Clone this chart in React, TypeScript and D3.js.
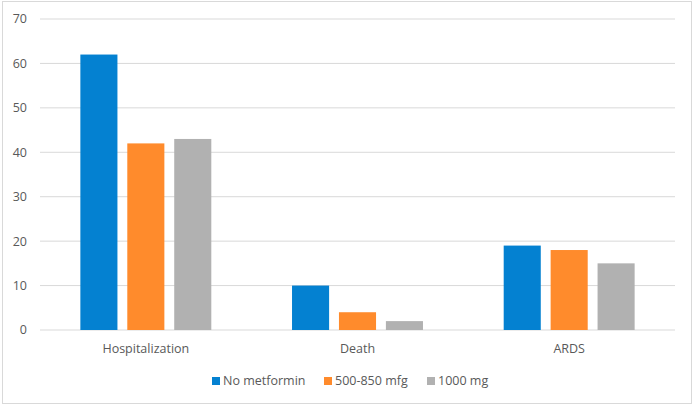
import React, { useEffect, useRef } from 'react';
import * as d3 from 'd3';

const categories = ['Hospitalization', 'Death', 'ARDS'];
const seriesNames = ['No metformin', '500-850 mfg', '1000 mg'];
const noMetformin = [62, 10, 19];
const mid = [42, 4, 18];
const high = [43, 2, 15];
const yTicks = [0, 10, 20, 30, 40, 50, 60, 70];
const colors = ['#0481d1', '#ff8b2c', '#b1b1b1'];

const App: React.FC = () => {
  const ref = useRef<SVGSVGElement | null>(null);

  useEffect(() => {
    const svg = d3.select(ref.current);
    svg.selectAll('*').remove();
    const font = "'Open Sans', 'DejaVu Sans', sans-serif";
    const textColor = '#595959';
    const fontSize = 12.5;

    // chart frame
    svg.append('rect')
      .attr('x', 2.5).attr('y', 1.5)
      .attr('width', 689).attr('height', 402)
      .attr('fill', '#fff')
      .attr('stroke', '#d9d9d9');

    const plot = { left: 40, right: 675, top: 19, bottom: 330 };
    const series = [noMetformin, mid, high];

    const y = d3.scaleLinear().domain([0, 70]).range([plot.bottom, plot.top]);
    const x0 = d3.scaleBand().domain(categories).range([plot.left, plot.right]);
    const x1 = d3.scaleBand<number>()
      .domain([0, 1, 2])
      .range([0, x0.bandwidth()])
      .paddingInner(0.21)
      .paddingOuter(0.86);

    // gridlines
    svg.append('g')
      .selectAll('line')
      .data(yTicks)
      .join('line')
      .attr('x1', plot.left).attr('x2', plot.right)
      .attr('y1', d => y(d)).attr('y2', d => y(d))
      .attr('stroke', '#d9d9d9')
      .attr('stroke-width', 1);

    // y tick labels
    svg.append('g')
      .selectAll('text')
      .data(yTicks)
      .join('text')
      .attr('x', 27)
      .attr('y', d => y(d))
      .attr('dy', '0.35em')
      .attr('text-anchor', 'end')
      .attr('font-family', font)
      .attr('font-size', fontSize)
      .attr('fill', textColor)
      .text(d => d);

    // bars
    const groups = svg.append('g')
      .selectAll('g')
      .data(categories)
      .join('g')
      .attr('transform', d => `translate(${x0(d)},0)`);

    groups.selectAll('rect')
      .data((_, ci) => series.map((s, si) => ({ si, v: s[ci] })))
      .join('rect')
      .attr('x', d => x1(d.si) || 0)
      .attr('y', d => y(d.v))
      .attr('width', x1.bandwidth())
      .attr('height', d => y(0) - y(d.v))
      .attr('fill', d => colors[d.si]);

    // category labels
    svg.append('g')
      .selectAll('text')
      .data(categories)
      .join('text')
      .attr('x', d => (x0(d) || 0) + x0.bandwidth() / 2)
      .attr('y', 353)
      .attr('text-anchor', 'middle')
      .attr('font-family', font)
      .attr('font-size', fontSize)
      .attr('fill', textColor)
      .text(d => d);

    // legend
    const legendX = [212, 324, 427];
    const legend = svg.append('g')
      .selectAll('g')
      .data(seriesNames)
      .join('g')
      .attr('transform', (_, i) => `translate(${legendX[i]},381)`);

    legend.append('rect')
      .attr('x', 0).attr('y', -4)
      .attr('width', 8).attr('height', 8)
      .attr('fill', (_, i) => colors[i]);

    legend.append('text')
      .attr('x', 11)
      .attr('dy', '0.35em')
      .attr('font-family', font)
      .attr('font-size', fontSize)
      .attr('fill', textColor)
      .text(d => d);
  }, []);

  return (
    <div style={{ position: 'absolute', left: 0, top: 0 }}>
      <svg ref={ref} width={694} height={406} style={{ display: 'block' }} />
    </div>
  );
};

export default App;
